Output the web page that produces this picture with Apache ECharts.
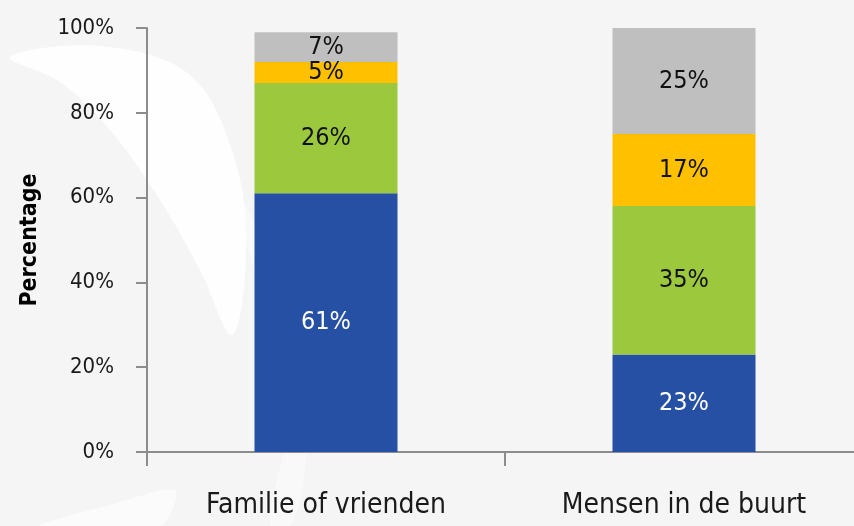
<!DOCTYPE html>
<html>
<head>
<meta charset="utf-8">
<script src="https://cdn.jsdelivr.net/npm/echarts@6/dist/echarts.min.js"></script>
<style>
  html, body { margin: 0; padding: 0; background: #f5f5f5; }
  #chart { width: 854px; height: 526px; }
</style>
</head>
<body>
<div id="chart"></div>
<script>
  // categorieen en waarden (procenten)
  var categories = ['Familie of vrienden', 'Mensen in de buurt'];
  var blauw = [61, 23];
  var groen = [26, 35];
  var geel = [5, 17];
  var grijs = [7, 25];
  var yTicks = [0, 20, 40, 60, 80, 100];

  var font = '"DejaVu Sans Condensed", "Liberation Sans Narrow", sans-serif';

  function serie(naam, data, kleur, tekstkleur) {
    return {
      name: naam,
      type: 'bar',
      stack: 'totaal',
      data: data,
      barWidth: 143,
      itemStyle: { color: kleur },
      label: {
        show: true,
        position: 'inside',
        formatter: '{c}%',
        color: tekstkleur,
        fontFamily: font,
        fontSize: 25
      }
    };
  }

  var myChart = echarts.init(document.getElementById('chart'));
  myChart.setOption({
    backgroundColor: '#f5f5f5',
    animation: false,
    graphic: [{
      // witte "swoosh" op de achtergrond
      type: 'polygon',
      silent: true,
      z: -10,
      shape: {
        smooth: 0.35,
        points: [[10, 57], [100, 46], [190, 75], [235, 160], [246, 255], [232, 335], [200, 270], [160, 200], [110, 130], [60, 82]]
      },
      style: { fill: '#ffffff', opacity: 0.9 }
    }, {
      type: 'polygon',
      silent: true,
      z: -10,
      shape: {
        smooth: 0.35,
        points: [[230, 180], [270, 260], [300, 380], [305, 470], [290, 526], [270, 526], [285, 430], [270, 330]]
      },
      style: { fill: '#ffffff', opacity: 0.4 }
    }, {
      type: 'polygon',
      silent: true,
      z: -10,
      shape: {
        smooth: 0.3,
        points: [[40, 526], [110, 505], [175, 490], [160, 526]]
      },
      style: { fill: '#ffffff', opacity: 0.6 }
    }],
    grid: { left: 147, top: 28, width: 716, height: 424, outerBoundsMode: 'none' },
    xAxis: {
      type: 'category',
      data: categories,
      axisLine: { lineStyle: { color: '#8c8c8c', width: 2 } },
      axisTick: { show: true, length: 14, lineStyle: { color: '#8c8c8c', width: 2 } },
      axisLabel: { color: '#1a1a1a', fontFamily: font, fontSize: 28, margin: 40 }
    },
    yAxis: {
      type: 'value',
      min: yTicks[0],
      max: yTicks[yTicks.length - 1],
      interval: 20,
      name: 'Percentage',
      nameLocation: 'middle',
      nameGap: 105,
      nameTextStyle: { color: '#000', fontFamily: font, fontWeight: 'bold', fontSize: 23 },
      axisLine: { show: true, lineStyle: { color: '#8c8c8c', width: 2 } },
      axisTick: { show: true, length: 11, lineStyle: { color: '#8c8c8c', width: 2 } },
      splitLine: { show: false },
      axisLabel: { color: '#1a1a1a', fontFamily: font, fontSize: 22, margin: 33, formatter: '{value}%' }
    },
    series: [
      serie('blauw', blauw, '#2550a3', '#ffffff'),
      serie('groen', groen, '#9bc83c', '#111111'),
      serie('geel', geel, '#ffc000', '#111111'),
      serie('grijs', grijs, '#bfbfbf', '#111111')
    ]
  });
</script>
</body>
</html>
